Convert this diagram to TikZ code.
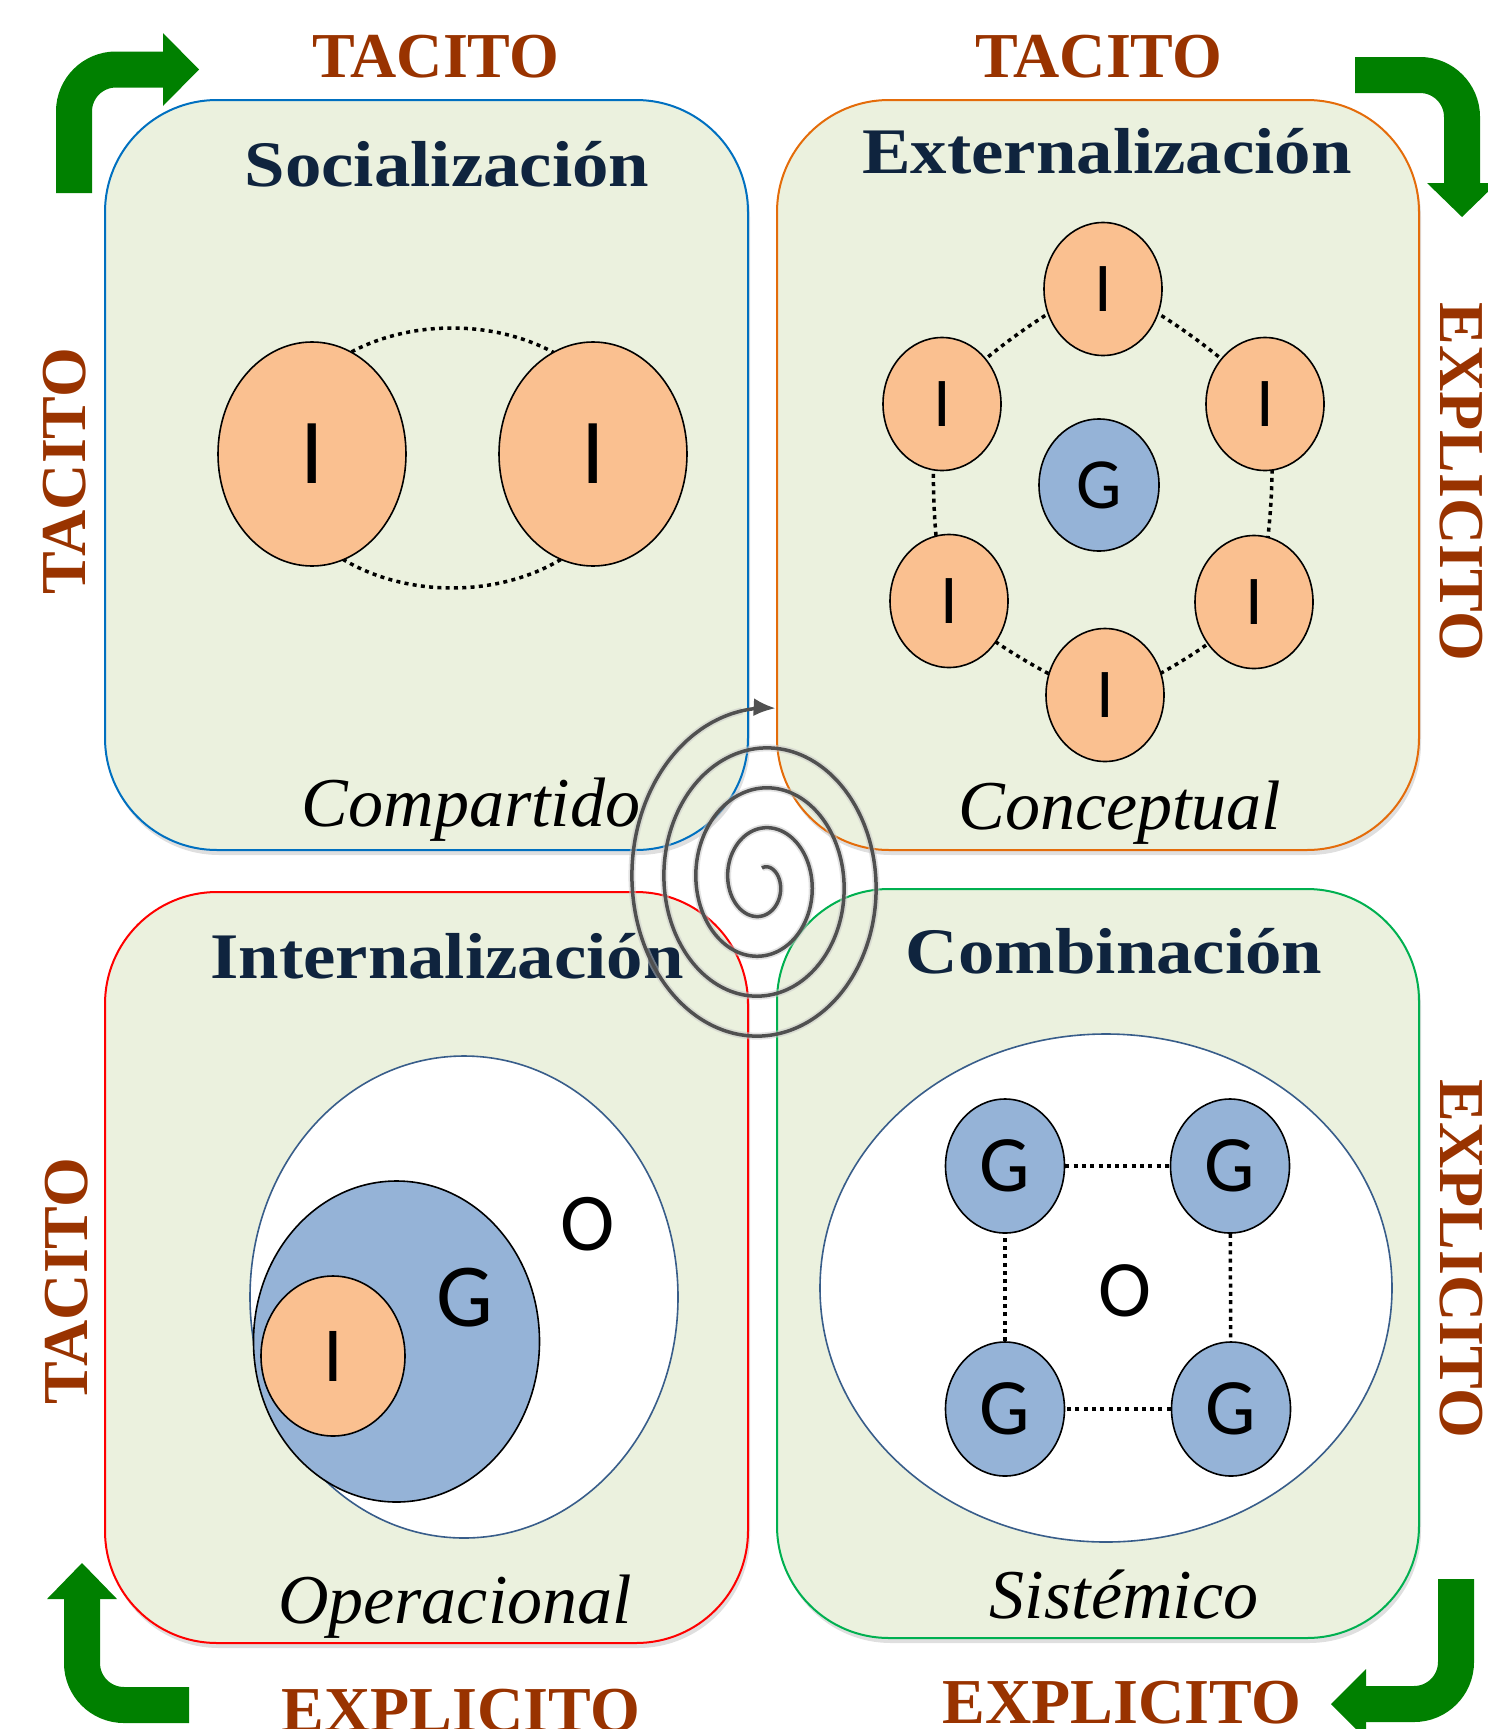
\documentclass[tikz,border=0pt]{standalone}
\usepackage{fontspec}
\setmainfont{Liberation Serif}
\newfontfamily\tfont{Liberation Serif}[FakeStretch=1.12]
\newfontfamily\sfont{Carlito}
\usetikzlibrary{shadows,arrows.meta,shapes.geometric}
\definecolor{boxfill}{RGB}{235,241,222}
\definecolor{navy}{RGB}{15,36,62}
\definecolor{tacit}{RGB}{153,51,0}
\definecolor{arrowgreen}{RGB}{0,128,0}
\definecolor{peach}{RGB}{250,192,144}
\definecolor{bluefill}{RGB}{149,179,215}
\definecolor{ringblue}{RGB}{56,93,138}
\definecolor{boxblue}{RGB}{0,112,192}
\definecolor{boxorange}{RGB}{228,108,10}
\definecolor{boxred}{RGB}{255,0,0}
\definecolor{boxgreen}{RGB}{0,176,80}
\definecolor{spiralgray}{RGB}{80,80,80}
\begin{document}
\begin{tikzpicture}[x=1pt,y=-1pt,
  quad/.style={draw, line width=2pt, fill=boxfill, rounded corners=112pt, inner sep=0pt,
    drop shadow={shadow xshift=2pt, shadow yshift=-5pt, opacity=.25}},
  title/.style={font=\tfont\bfseries\fontsize{65}{72}\selectfont, text=navy, inner sep=0pt, anchor=base},
  lab/.style={font=\itshape\fontsize{70}{80}\selectfont, inner sep=0pt, anchor=base},
  tac/.style={font=\bfseries\fontsize{64}{70}\selectfont, text=tacit, inner sep=0pt, anchor=base},
  ell/.style={ellipse, draw=black, line width=1.6pt, inner sep=0pt},
  pI/.style={ell, fill=peach},
  bG/.style={ell, fill=bluefill},
  ring/.style={ellipse, draw=ringblue, line width=1.6pt, fill=white, inner sep=0pt},
  dots/.style={line width=3.5pt, dash pattern=on 4pt off 4.3pt, black},
  garrow/.style={line width=36pt, arrowgreen, rounded corners=42pt},
  ghead/.style={fill=arrowgreen},
  spiral/.style={line width=3.5pt, spiralgray}
]
\useasboundingbox (0,0) rectangle (1488,1729);

% ---------- quadrants ----------
\node[quad, draw=boxblue,   minimum width=643pt, minimum height=750pt] (tl) at (426.5,475) {};
\node[quad, draw=boxorange, minimum width=642pt, minimum height=750pt] (tr) at (1098,475) {};
\node[quad, draw=boxred,    minimum width=643pt, minimum height=751pt] (bl) at (426.5,1267.5) {};
\node[quad, draw=boxgreen,  minimum width=642pt, minimum height=749pt] (br) at (1098,1263.5) {};

% ---------- titles ----------
\node[title] (t1) at (447,186) {Socialización};
\node[title] (t2) at (1107,173) {Externalización};
\node[title] (t3) at (447,978) {Internalización};
\node[title] (t4) at (1114,973) {Combinación};

% ---------- italic labels ----------
\node[lab] (l1) at (471,826) {Compartido};
\node[lab] (l2) at (1120,829) {Conceptual};
\node[lab] (l3) at (455,1623) {Operacional};
\node[lab] (l4) at (1124,1618) {Sistémico};

% ---------- outer words ----------
\node[tac] (w1) at (436,77) {TACITO};
\node[tac] (w2) at (1099,77) {TACITO};
\node[tac, rotate=90] (w3) at (85,471) {TACITO};
\node[tac, rotate=90] (w4) at (87,1281) {TACITO};
\node[tac, rotate=-90] (w5) at (1440,482) {EXPLICITO};
\node[tac, rotate=-90] (w6) at (1440,1259) {EXPLICITO};
\node[tac] (w7) at (461,1731) {EXPLICITO};
\node[tac] (w8) at (1122,1723) {EXPLICITO};

% ---------- green corner arrows ----------
\draw[garrow] (74,193) |- (165,69.5);
\fill[ghead] (163,33) -- (199,69.5) -- (163,106) -- cycle;
\draw[garrow] (1355,75) -| (1462,185);
\fill[ghead] (1427,183) -- (1497,183) -- (1462,217) -- cycle;
\draw[garrow] (189,1705) -| (82,1597);
\fill[ghead] (47,1599) -- (117,1599) -- (82,1563) -- cycle;
\draw[garrow] (1456,1579) |- (1364,1704);
\fill[ghead] (1366,1669) -- (1366,1739) -- (1331,1704) -- cycle;

% ---------- Socializacion ----------
\draw[dots] (452,458) ellipse [x radius=174pt, y radius=130pt];
\node[pI, minimum width=188pt, minimum height=224pt, font=\sfont\fontsize{93}{100}\selectfont] (s1) at (312,454) {I};
\node[pI, minimum width=188pt, minimum height=224pt, font=\sfont\fontsize{93}{100}\selectfont] (s2) at (593,454) {I};

% ---------- Externalizacion ----------
\coordinate (c1) at (1103,289);
\coordinate (c2) at (1265,404);
\coordinate (c3) at (1254,602);
\coordinate (c4) at (1105,695);
\coordinate (c5) at (949,601);
\coordinate (c6) at (942,404);
\draw[dots] plot[smooth cycle, tension=0.35] coordinates {(c1) (c2) (c3) (c4) (c5) (c6)};
\foreach \c in {1,...,6}{
  \node[pI, minimum width=118pt, minimum height=133pt, font=\sfont\fontsize{70}{76}\selectfont] (e\c) at (c\c) {I};
}
\node[bG, minimum width=120pt, minimum height=132pt, font=\sfont\fontsize{72}{78}\selectfont] (eg) at (1099,485) {G};

% ---------- Internalizacion ----------
\node[ring, minimum width=428pt, minimum height=482pt] (o1) at (464,1297) {};
\node[bG, minimum width=286pt, minimum height=321pt] (g1) at (396.5,1341.5) {};
\node[pI, minimum width=144pt, minimum height=160pt, font=\sfont\fontsize{78}{84}\selectfont] (i1) at (333,1356) {I};
\node[font=\sfont\fontsize{90}{96}\selectfont, inner sep=0pt] (g1t) at (465,1298) {G};
\node[font=\sfont\fontsize{82}{88}\selectfont, inner sep=0pt] (o1t) at (588,1224) {O};

% ---------- Combinacion ----------
\node[ring, minimum width=572pt, minimum height=508pt] (o2) at (1106,1288) {};
\node[font=\sfont\fontsize{80}{86}\selectfont, inner sep=0pt] (o2t) at (1125,1291) {O};
\foreach \n/\px/\py in {a/1005/1166, b/1230/1166, c/1005/1409, d/1231/1409}{
  \node[bG, minimum width=119pt, minimum height=134pt, font=\sfont\fontsize{80}{86}\selectfont] (cg\n) at (\px,\py) {G};
}
\draw[dots] (cga) -- (cgb);
\draw[dots] (cgb) -- (cgd);
\draw[dots] (cgd) -- (cgc);
\draw[dots] (cgc) -- (cga);

% ---------- spiral ----------
\draw[line width=7pt, gray!45, opacity=.5] plot[domain=0:3.98, samples=320, smooth]
  ({762+(32*\x+10)*sin(360*\x)}, {882-(40*\x+14)*cos(360*\x)});
\draw[spiral, -{Latex[length=22pt,width=18pt]}] plot[domain=0:4.02, samples=320, smooth]
  ({762+(32*\x+10)*sin(360*\x)}, {882-(40*\x+14)*cos(360*\x)});
\end{tikzpicture}
\end{document}
